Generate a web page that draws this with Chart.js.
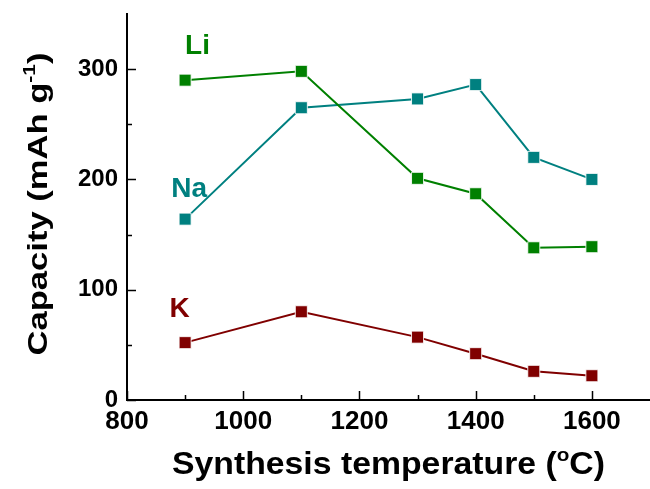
<!DOCTYPE html>
<html>
<head>
<meta charset="utf-8">
<script src="https://cdn.jsdelivr.net/npm/chart.js@4.4.1/dist/chart.umd.min.js"></script>
<style>
  html, body { margin: 0; padding: 0; background: #fff; }
  #wrap { width: 650px; height: 489px; }
</style>
</head>
<body>
<div id="wrap"><canvas id="capacityChart" width="650" height="489"></canvas></div>
<script>
const temperatures = [900, 1100, 1300, 1400, 1500, 1600];
const liCapacity = [290, 298, 201, 187, 138, 139];
const naCapacity = [164, 265, 273, 286, 220, 200];
const kCapacity = [52, 80, 57, 42, 26, 22];

const seriesNames = ["Li", "Na", "K"];
const xTickLabels = [800, 1000, 1200, 1400, 1600];
const yTickLabels = [0, 100, 200, 300];
const xMinorTicks = [900, 1100, 1300, 1500];
const yMinorTicks = [50, 150, 250];

const yTitleParts = [["Capacity (mAh g", 0], ["-1", 1], [")", 0]];
const xTitleParts = [["Synthesis temperature (", 0], ["o", 1], ["C)", 0]];

// where the series names sit, in data units (left edge, baseline)
const nameAnchors = [[900, 314], [876, 184], [873, 75]];
const colors = ["#008000", "#008080", "#800000"];

const FONT = "'Liberation Sans', Arial, Helvetica, sans-serif";

const toPoints = (values) => values.map((v, i) => ({ x: temperatures[i], y: v }));

const makeDataset = (label, values, color) => ({
  label: label,
  data: toPoints(values),
  borderColor: color,
  backgroundColor: color,
  borderWidth: 2,
  pointStyle: "rect",
  pointRadius: 8.5,
  pointHoverRadius: 8.5,
  pointBackgroundColor: color,
  pointBorderColor: "rgba(255,255,255,0.85)",
  pointBorderWidth: 1,
  tension: 0,
});

// ticks point into the plot, majors longer than minors
const innerTicks = {
  id: "innerTicks",
  afterDraw(chart) {
    const { ctx, scales } = chart;
    const x = scales.x, y = scales.y;
    ctx.save();
    ctx.strokeStyle = "#000";
    ctx.lineWidth = 1.5;
    ctx.beginPath();
    xTickLabels.concat(xMinorTicks).forEach((v) => {
      const px = Math.round(x.getPixelForValue(v)) + 0.5;
      const len = xTickLabels.includes(v) ? 9 : 5;
      ctx.moveTo(px, y.bottom);
      ctx.lineTo(px, y.bottom - len);
    });
    yTickLabels.concat(yMinorTicks).forEach((v) => {
      const py = Math.round(y.getPixelForValue(v)) + 0.5;
      const len = yTickLabels.includes(v) ? 9 : 5;
      ctx.moveTo(x.left, py);
      ctx.lineTo(x.left + len, py);
    });
    ctx.stroke();
    ctx.restore();
  },
};

// draws text with raised small parts, stretched to a given length
const drawRich = (ctx, parts, size, targetWidth) => {
  const small = Math.round(size * 0.62);
  let total = 0;
  parts.forEach(([t, sup]) => {
    ctx.font = `bold ${sup ? small : size}px ${FONT}`;
    total += ctx.measureText(t).width;
  });
  const sx = targetWidth / total;
  ctx.scale(sx, 1);
  let cx = -total / 2;
  parts.forEach(([t, sup]) => {
    ctx.font = `bold ${sup ? small : size}px ${FONT}`;
    ctx.fillText(t, cx, sup ? -size * 0.42 : 0);
    cx += ctx.measureText(t).width;
  });
};

const textLayer = {
  id: "textLayer",
  afterDraw(chart) {
    const { ctx, scales, chartArea } = chart;
    ctx.save();
    ctx.textBaseline = "alphabetic";
    ctx.textAlign = "left";
    ctx.fillStyle = "#000";

    ctx.save();
    ctx.translate((chartArea.left + chartArea.right) / 2, 474);
    drawRich(ctx, xTitleParts, 31, 433);
    ctx.restore();

    ctx.save();
    ctx.translate(47, 204);
    ctx.rotate(-Math.PI / 2);
    drawRich(ctx, yTitleParts, 28, 303);
    ctx.restore();

    ctx.font = `bold 28px ${FONT}`;
    seriesNames.forEach((name, i) => {
      ctx.fillStyle = colors[i];
      ctx.fillText(name, scales.x.getPixelForValue(nameAnchors[i][0]), scales.y.getPixelForValue(nameAnchors[i][1]));
    });
    ctx.restore();
  },
};

new Chart(document.querySelector("#capacityChart"), {
  type: "line",
  data: {
    datasets: [
      makeDataset(seriesNames[0], liCapacity, colors[0]),
      makeDataset(seriesNames[1], naCapacity, colors[1]),
      makeDataset(seriesNames[2], kCapacity, colors[2]),
    ],
  },
  options: {
    responsive: false,
    animation: false,
    layout: { autoPadding: false, padding: { top: 14, right: 0, bottom: 0, left: 0 } },
    plugins: { legend: { display: false }, tooltip: { enabled: false } },
    scales: {
      x: {
        type: "linear",
        min: 800,
        max: 1700,
        afterBuildTicks(scale) {
          scale.ticks = xTickLabels.map((v) => ({ value: v }));
        },
        afterFit(scale) {
          scale.height = 89;
          scale.paddingLeft = 0;
          scale.paddingRight = 0;
        },
        grid: { display: false, drawTicks: false },
        border: { display: true, color: "#000", width: 2 },
        ticks: {
          padding: 6,
          color: "#000",
          font: { family: FONT, size: 26, weight: "bold" },
          maxRotation: 0,
          autoSkip: false,
          callback: (v) => String(v),
        },
      },
      y: {
        min: 0,
        max: 350,
        afterBuildTicks(scale) {
          scale.ticks = yTickLabels.map((v) => ({ value: v }));
        },
        afterFit(scale) {
          scale.width = 127;
          scale.paddingTop = 0;
          scale.paddingBottom = 0;
        },
        grid: { display: false, drawTicks: false },
        border: { display: true, color: "#000", width: 2 },
        ticks: {
          padding: 9,
          color: "#000",
          font: { family: FONT, size: 24, weight: "bold" },
          autoSkip: false,
          callback: (v) => String(v),
        },
      },
    },
  },
  plugins: [innerTicks, textLayer],
});
</script>
</body>
</html>
